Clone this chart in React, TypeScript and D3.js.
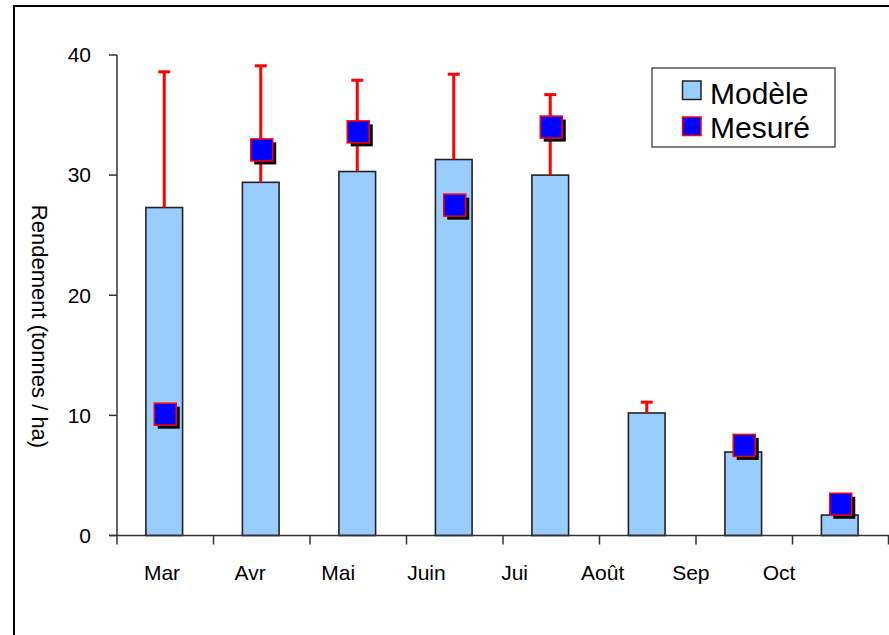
import React from 'react';
import * as d3 from 'd3';

const categories = ['Mar', 'Avr', 'Mai', 'Juin', 'Jui', 'Août', 'Sep', 'Oct'];
const modele = [27.3, 29.4, 30.3, 31.3, 30.0, 10.2, 6.95, 1.7];
const mesure: (number | null)[] = [10.1, 32.1, 33.6, 27.5, 34.0, null, 7.5, 2.6];
const errorTop: (number | null)[] = [38.6, 39.1, 37.9, 38.4, 36.7, 11.1, null, null];
const yTicks = [0, 10, 20, 30, 40];
const seriesNames = ['Modèle', 'Mesuré'];

const W = 889;
const H = 635;
const FONT = '"Liberation Sans", Arial, sans-serif';

export default function App() {
  const x = d3.scaleBand<string>().domain(categories).range([117, 889]).paddingInner(0.62).paddingOuter(0.31);
  const y = d3.scaleLinear().domain([0, 40]).range([535.5, 55]);
  const labelX = d3.scalePoint<string>().domain(categories).range([162, 779]);
  const bw = x.bandwidth();
  const sq = 22;
  const shadow = 3.5;

  return (
    <svg width={W} height={H} style={{ position: 'absolute', left: 0, top: 0, background: '#fff' }} fontFamily={FONT}>
      <rect x={14} y={6} width={W} height={H} fill="#fff" stroke="#000" strokeWidth={2} />

      {/* bars */}
      {modele.map((v, i) => (
        <rect key={'b' + i} x={x(categories[i])! - 1} y={y(v)} width={bw} height={y(0) - y(v)}
          fill="#99CCFF" stroke="#222" strokeWidth={1.6} />
      ))}

      {/* error bars */}
      {errorTop.map((e, i) => {
        if (e == null) return null;
        const cx = x(categories[i])! - 1 + bw / 2;
        return (
          <g key={'e' + i} stroke="#FF0000" strokeWidth={3}>
            <line x1={cx} x2={cx} y1={y(modele[i])} y2={y(e)} />
            <line x1={cx - 6} x2={cx + 6} y1={y(e)} y2={y(e)} />
          </g>
        );
      })}

      {/* measured squares */}
      {mesure.map((v, i) => {
        if (v == null) return null;
        const cx = x(categories[i])! + bw / 2;
        const cy = y(v);
        return (
          <g key={'m' + i}>
            <rect x={cx - sq / 2 + shadow} y={cy - sq / 2 + shadow} width={sq} height={sq} fill="#000" />
            <rect x={cx - sq / 2} y={cy - sq / 2} width={sq} height={sq} fill="#0000FF" stroke="#FF0000" strokeWidth={1.5} />
          </g>
        );
      })}

      {/* y axis */}
      <line x1={117} x2={117} y1={y(40)} y2={y(0)} stroke="#333" strokeWidth={1.5} />
      {yTicks.map((t) => (
        <g key={'yt' + t}>
          <line x1={109} x2={117} y1={y(t)} y2={y(t)} stroke="#333" strokeWidth={1.5} />
          <text x={91} y={y(t)} dy="0.35em" textAnchor="end" fontSize={21} fill="#000">{t}</text>
        </g>
      ))}

      {/* x axis */}
      <line x1={109} x2={889} y1={y(0)} y2={y(0)} stroke="#333" strokeWidth={1.5} />
      {categories.map((c, i) => (
        <line key={'xt' + i} x1={x(c)! - x.step() * 0.31} x2={x(c)! - x.step() * 0.31} y1={y(0)} y2={y(0) + 9} stroke="#333" strokeWidth={1.5} />
      ))}
      <line x1={888.5} x2={888.5} y1={y(0)} y2={y(0) + 9} stroke="#333" strokeWidth={1.5} />
      {categories.map((c) => (
        <text key={'xl' + c} x={labelX(c)} y={580} textAnchor="middle" fontSize={21} fill="#000">{c}</text>
      ))}

      {/* y title */}
      <text transform={`translate(32,326.5) rotate(90)`} textAnchor="middle" fontSize={22} fill="#000">
        Rendement (tonnes / ha)
      </text>

      {/* legend */}
      <rect x={652} y={68} width={183} height={79} fill="#fff" stroke="#555" strokeWidth={1.5} />
      <rect x={682.5} y={81} width={18.5} height={18.5} fill="#99CCFF" stroke="#222" strokeWidth={1.5} />
      <text x={710} y={103.5} fontSize={30} fill="#000">{seriesNames[0]}</text>
      <rect x={682.5} y={117} width={18.5} height={18.5} fill="#0000FF" stroke="#FF0000" strokeWidth={1.5} />
      <text x={710} y={138} fontSize={30} fill="#000">{seriesNames[1]}</text>
    </svg>
  );
}
